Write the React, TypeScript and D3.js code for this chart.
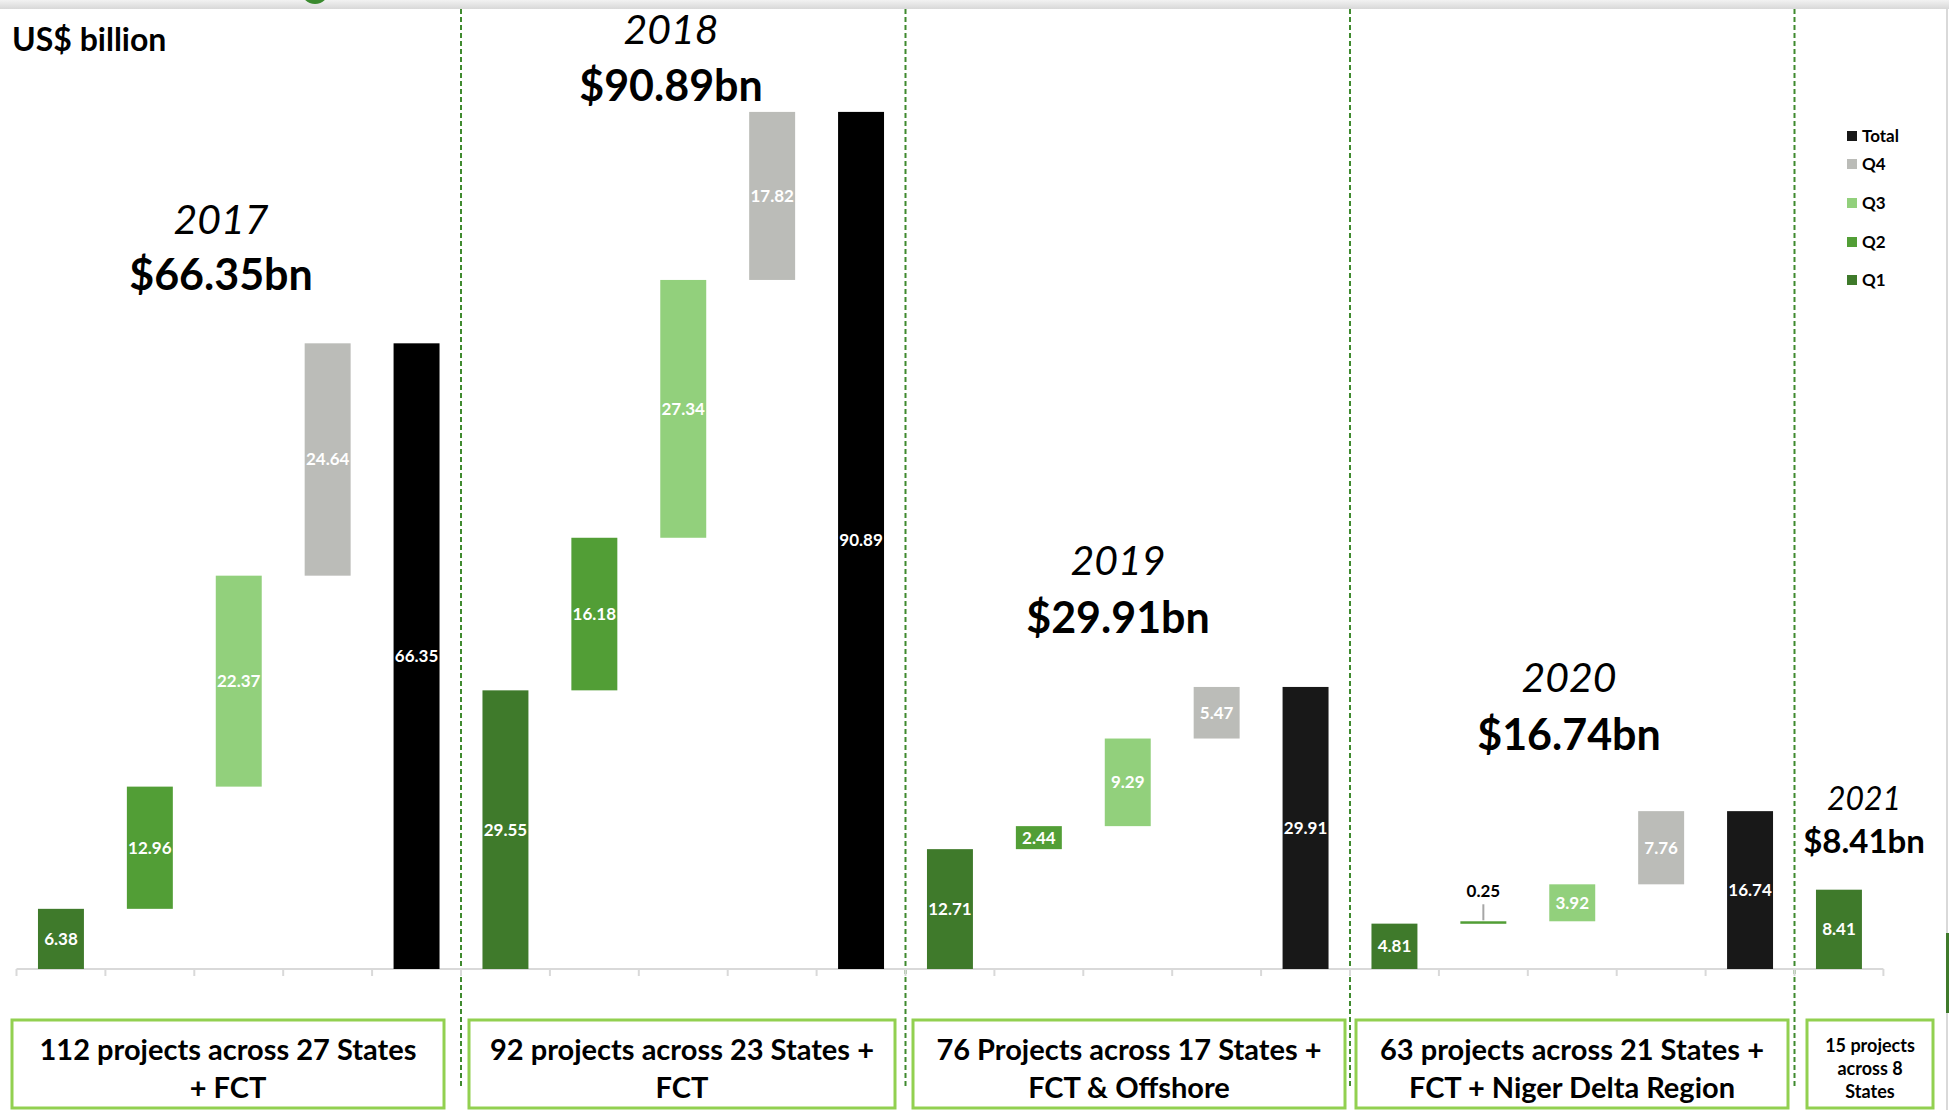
import * as d3 from "d3";

// values in US$ billion
const years = ["2017", "2018", "2019", "2020", "2021"];
const q1 = [6.38, 29.55, 12.71, 4.81, 8.41];
const q2 = [12.96, 16.18, 2.44, 0.25];
const q3 = [22.37, 27.34, 9.29, 3.92];
const q4 = [24.64, 17.82, 5.47, 7.76];
const totals = [66.35, 90.89, 29.91, 16.74, 8.41];
const quarterNames = ["Q1", "Q2", "Q3", "Q4", "Total"];
const legendItems = ["Total", "Q4", "Q3", "Q2", "Q1"];
const boxLabels = [
  ["112 projects across 27 States", "+ FCT"],
  ["92 projects across 23 States +", "FCT"],
  ["76 Projects across 17 States +", "FCT & Offshore"],
  ["63 projects across 21 States +", "FCT + Niger Delta Region"],
  ["15 projects", "across 8", "States"],
];

const W = 1949;
const H = 1110;
const FONT = "Lato, 'Open Sans', sans-serif";

const colors: Record<string, string> = {
  Q1: "#3f7a2b",
  Q2: "#529e36",
  Q3: "#92d07c",
  Q4: "#bbbcb8",
  Total: "#181818",
};

type Bar = { key: string; year: number; q: string; y0: number; y1: number; v: number };

// waterfall: each quarter floats on the running sum, total starts at zero
const bars: Bar[] = [];
years.forEach((yr, i) => {
  const qs = [q1[i], q2[i], q3[i], q4[i]].filter((v) => v !== undefined);
  let cum = 0;
  qs.forEach((v, j) => {
    bars.push({ key: `${yr}-${quarterNames[j]}`, year: i, q: quarterNames[j], y0: cum, y1: cum + v, v });
    cum += v;
  });
  if (qs.length > 1) {
    bars.push({ key: `${yr}-Total`, year: i, q: "Total", y0: 0, y1: totals[i], v: totals[i] });
  }
});

const x = d3
  .scaleBand<string>()
  .domain(bars.map((b) => b.key))
  .range([16.5, 1883.4])
  .paddingInner(0.483)
  .paddingOuter(0.2415);

const y = d3.scaleLinear().domain([0, 100]).range([969, 26]);

const step = x.step();
const x0 = 16.5;
const tickXs = d3.range(bars.length + 1).map((i) => x0 + i * step);

// group boundaries (after each year's set of bars)
const groupEnds: number[] = [];
{
  let n = 0;
  years.forEach((yr) => {
    n += bars.filter((b) => b.key.startsWith(yr)).length;
    groupEnds.push(n);
  });
}

const titles = [
  { cx: 221, yy: 234, ya: 290, big: true },
  { cx: 671, yy: 44, ya: 101, big: true },
  { cx: 1118, yy: 575, ya: 633, big: true },
  { cx: 1569, yy: 692, ya: 750, big: true },
  { cx: 1864, yy: 810, ya: 853, big: false },
];

const boxes = [
  { x: 12, w: 432 },
  { x: 469, w: 426 },
  { x: 913, w: 432 },
  { x: 1356, w: 432 },
  { x: 1807, w: 126 },
];

export default function App() {
  const fmt = d3.format(".2f");
  return (
    <svg width={W} height={H} style={{ display: "block", position: "absolute", left: 0, top: 0, background: "#fff" }}>
      <defs>
        <linearGradient id="topbar" x1="0" y1="0" x2="0" y2="1">
          <stop offset="0" stopColor="#f2f2f2" />
          <stop offset="1" stopColor="#d8d8d8" />
        </linearGradient>
      </defs>
      <rect x={0} y={0} width={W} height={H} fill="#fff" />
      {/* slide frame bits */}
      <rect x={0} y={0} width={W} height={9} fill="url(#topbar)" />
      <circle cx={315} cy={-10} r={14} fill="#3a8a2e" />
      <line x1={1947} y1={9} x2={1947} y2={H} stroke="#d9d9d9" strokeWidth={2} />
      <rect x={1946} y={933} width={3} height={80} fill="#3f7a2b" />

      <text x={12} y={51} fontFamily={FONT} fontWeight={700} fontSize={32} fill="#000">
        US$ billion
      </text>

      {/* dashed separators */}
      {groupEnds.slice(0, -1).map((n, i) => (
        <line
          key={i}
          x1={tickXs[n]}
          x2={tickXs[n]}
          y1={9}
          y2={1088}
          stroke="#3f8a2e"
          strokeWidth={2}
          strokeDasharray="5,3"
        />
      ))}

      {/* axis */}
      <line x1={x0} x2={tickXs[tickXs.length - 1]} y1={969} y2={969} stroke="#d9d9d9" strokeWidth={2} />
      {tickXs.map((t, i) => (
        <line key={i} x1={t} x2={t} y1={969} y2={976} stroke="#d9d9d9" strokeWidth={2} />
      ))}

      {/* bars */}
      {bars.map((b) => {
        const bx = x(b.key)!;
        const top = y(b.y1);
        const h = Math.max(y(b.y0) - y(b.y1), 2.5);
        const fill = b.q === "Total" && b.year < 2 ? "#000" : colors[b.q];
        const cx = bx + x.bandwidth() / 2;
        const small = b.v < 1;
        return (
          <g key={b.key}>
            <rect x={bx} y={top} width={x.bandwidth()} height={h} fill={fill} />
            {small ? (
              <>
                <line x1={cx} x2={cx} y1={top - 1} y2={top - 17} stroke="#a6a6a6" strokeWidth={2} />
                <text x={cx} y={top - 24} textAnchor="middle" fontFamily={FONT} fontWeight={700} fontSize={17} fill="#000">
                  {fmt(b.v)}
                </text>
              </>
            ) : (
              <text
                x={cx}
                y={top + h / 2}
                dy="0.35em"
                textAnchor="middle"
                fontFamily={FONT}
                fontWeight={700}
                fontSize={17}
                fill="#fff"
              >
                {fmt(b.v)}
              </text>
            )}
          </g>
        );
      })}

      {/* year headlines */}
      {titles.map((t, i) => (
        <g key={i}>
          <text x={t.cx} y={t.yy} textAnchor="middle" fontFamily={FONT} fontStyle="italic" fontSize={t.big ? 41 : 32} fill="#000">
            {years[i]}
          </text>
          <text x={t.cx} y={t.ya} textAnchor="middle" fontFamily={FONT} fontWeight={700} fontSize={t.big ? 43 : 33} fill="#000">
            {`$${fmt(totals[i])}bn`}
          </text>
        </g>
      ))}

      {/* legend */}
      {legendItems.map((name, i) => {
        const cy = [136, 164, 203, 242, 280][i];
        return (
          <g key={name}>
            <rect x={1847} y={cy - 5} width={10} height={10} fill={colors[name]} />
            <text x={1862} y={cy} dy="0.35em" fontFamily={FONT} fontWeight={700} fontSize={17} fill="#000">
              {name}
            </text>
          </g>
        );
      })}

      {/* project boxes */}
      {boxes.map((bx, i) => {
        const lines = boxLabels[i];
        const small = lines.length > 2;
        return (
          <g key={i}>
            <rect x={bx.x} y={1020} width={bx.w} height={88} fill="#fff" stroke="#92d050" strokeWidth={3} />
            {lines.map((ln, j) => (
              <text
                key={j}
                x={bx.x + bx.w / 2}
                y={small ? 1052 + j * 23 : 1060 + j * 38}
                textAnchor="middle"
                fontFamily={FONT}
                fontWeight={700}
                fontSize={small ? 18 : 29}
                fill="#000"
              >
                {ln}
              </text>
            ))}
          </g>
        );
      })}
    </svg>
  );
}
